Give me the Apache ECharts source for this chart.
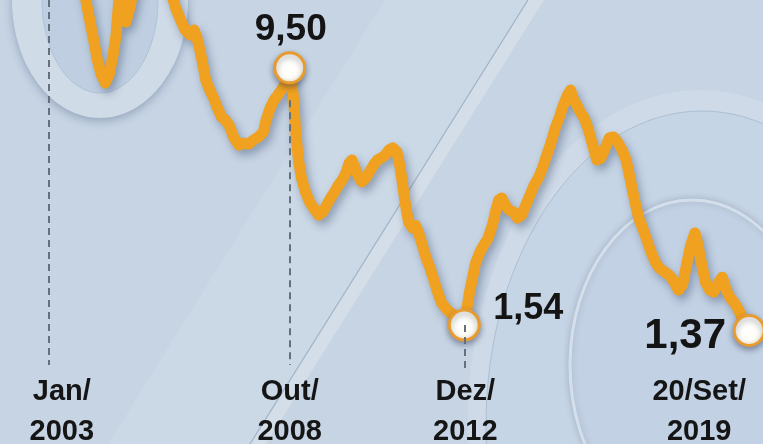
<!DOCTYPE html>
<html>
<head>
<meta charset="utf-8">
<script src="https://cdn.jsdelivr.net/npm/echarts@6/dist/echarts.min.js"></script>
<style>
  html, body { margin: 0; padding: 0; background: #c6d4e4; }
  #chart { width: 763px; height: 444px; }
</style>
</head>
<body>
<div id="chart"></div>
<script>
// Real interest rate (% a.a.), Jan/2003 to 20/Set/2019
const dates = [
  '2003-01-01','2003-03-01','2003-05-07','2003-07-14','2003-09-12','2003-11-11','2003-12-23',
  '2004-01-27','2004-02-28','2004-04-03','2004-05-07','2004-06-11','2004-07-14','2004-08-09',
  '2004-08-26','2004-09-13','2004-10-08','2004-11-03','2004-12-07','2005-01-10','2005-02-14',
  '2005-04-29','2005-07-23','2005-09-30','2005-11-29','2006-01-11','2006-02-22','2006-04-04',
  '2006-05-16','2006-06-20','2006-07-15','2006-08-10','2006-09-05','2006-09-30','2006-11-04',
  '2006-12-07','2007-01-11','2007-02-14','2007-03-18','2007-04-21','2007-06-03','2007-07-15',
  '2007-08-27','2007-10-09','2007-11-21','2008-01-03','2008-02-14','2008-03-10','2008-04-13',
  '2008-05-17','2008-06-20','2008-08-02','2008-09-06','2008-10-01','2008-10-18','2008-11-05',
  '2008-11-21','2008-12-16','2009-01-11','2009-02-15','2009-03-27','2009-05-09','2009-06-12',
  '2009-07-16','2009-08-19','2009-09-23','2009-10-27','2009-11-30','2010-01-03','2010-02-07',
  '2010-03-02','2010-03-27','2010-04-23','2010-05-17','2010-06-21','2010-07-25','2010-08-28',
  '2010-10-02','2010-11-05','2010-12-09','2011-01-12','2011-02-15','2011-03-19','2011-04-23',
  '2011-05-18','2011-06-13','2011-07-08','2011-08-03','2011-09-07','2011-10-02','2011-10-27',
  '2011-11-30','2012-01-04','2012-02-07','2012-03-11','2012-04-15','2012-05-18','2012-06-22',
  '2012-07-25','2012-08-29','2012-10-11','2012-12-01','2013-01-16','2013-02-12','2013-03-10',
  '2013-04-16','2013-05-21','2013-06-27','2013-08-03','2013-08-30','2013-09-27','2013-10-24',
  '2013-11-21','2013-12-27','2014-02-03','2014-03-09','2014-04-15','2014-05-21','2014-06-27',
  '2014-08-02','2014-09-08','2014-10-14','2014-11-20','2014-12-26','2015-02-02','2015-03-08',
  '2015-04-14','2015-05-20','2015-06-16','2015-07-13','2015-08-10','2015-09-07','2015-10-13',
  '2015-11-19','2015-12-25','2016-01-31','2016-03-07','2016-04-13','2016-05-18','2016-06-24',
  '2016-07-30','2016-09-06','2016-10-12','2016-11-18','2016-12-24','2017-01-30','2017-03-05',
  '2017-04-11','2017-05-17','2017-06-23','2017-07-29','2017-09-14','2017-10-29','2017-12-05',
  '2018-01-11','2018-02-16','2018-03-23','2018-04-29','2018-06-04','2018-07-01','2018-07-28',
  '2018-09-04','2018-10-10','2018-11-16','2018-12-22','2019-01-28','2019-03-04','2019-04-09',
  '2019-05-15','2019-06-21','2019-07-27','2019-09-20'
];
const realRate = [
  12.84, 13.30, 12.99, 13.46, 12.53, 11.75, 10.98,
  10.36, 9.74, 9.28, 9.03, 9.31, 9.90, 10.52,
  11.29, 11.91, 11.45, 10.92, 11.35, 11.97, 12.84,
  13.46, 12.99, 12.37, 11.85, 11.35, 10.98, 10.67,
  10.52, 10.67, 10.42, 10.05, 9.59, 9.12, 8.81,
  8.57, 8.25, 7.98, 7.89, 7.73, 7.33, 7.11,
  7.17, 7.14, 7.27, 7.36, 7.51, 7.89, 8.25,
  8.50, 8.66, 8.88, 9.12, 9.50, 9.06, 8.50,
  7.57, 6.65, 6.09, 5.66, 5.32, 5.10, 4.94,
  5.04, 5.25, 5.47, 5.66, 5.87, 6.03, 6.28,
  6.55, 6.65, 6.40, 6.18, 5.97, 6.09, 6.28,
  6.49, 6.65, 6.71, 6.80, 6.96, 7.02, 6.90,
  6.49, 5.87, 5.25, 4.73, 4.54, 4.63, 4.42,
  4.02, 3.61, 3.30, 2.93, 2.53, 2.22, 2.06,
  1.94, 1.85, 1.76, 1.54, 2.56, 3.02, 3.46,
  3.80, 4.02, 4.23, 4.63, 5.04, 5.41, 5.47,
  5.25, 5.10, 5.04, 4.85, 4.94, 5.25, 5.56,
  5.87, 6.09, 6.40, 6.80, 7.17, 7.64, 7.95,
  8.35, 8.66, 8.81, 8.50, 8.35, 8.13, 7.95,
  7.58, 7.11, 6.65, 6.71, 7.02, 7.33, 7.36,
  7.20, 6.96, 6.65, 6.03, 5.41, 4.85, 4.54,
  4.17, 3.80, 3.49, 3.30, 3.18, 3.06, 2.87,
  2.62, 2.78, 3.40, 4.02, 4.39, 4.02, 3.49,
  2.87, 2.62, 2.56, 2.84, 3.02, 2.62, 2.37,
  2.22, 2.00, 1.69, 1.37
];
// Highlighted observations (value read from the series itself)
const keyDates = ['2008-10-01', '2012-12-01', '2019-09-20'];
// Reference dates along the time line and their captions
const refDates = ['2003-01-01', '2008-10-01', '2012-12-01', '2019-09-20'];
const refLabels = ['Jan/\n2003', 'Out/\n2008', 'Dez/\n2012', '20/Set/\n2019'];

const rateAt = d => realRate[dates.indexOf(d)];
const fmt = v => v.toFixed(2).replace('.', ',');

const FONT = '"Liberation Sans", Arial, sans-serif';
const ORANGE = '#efa11f';

// label placement for the highlighted points and date captions
const keyLabelStyle = [
  { offset: [1, -38], fontSize: 37 },
  { offset: [64, -16], fontSize: 36 },
  { offset: [-64, 6], fontSize: 42 }
];
const refLabelOffset = [[13, 0], [0, 0], [1, 0], [-50, 0]];
const CAPTION_Y = -1.15;

const chart = echarts.init(document.getElementById('chart'), null, { renderer: 'canvas' });

// stylised "%" drawn behind the plot
const bg = [
  { type: 'rect', shape: { x: 0, y: 0, width: 763, height: 444 }, style: { fill: '#c6d4e4' } },
  // upper ring of the percent sign
  { type: 'ellipse', shape: { cx: 100, cy: 0, rx: 88, ry: 118 },
    style: { fill: '#d0dbe8', shadowBlur: 8, shadowOffsetY: 3, shadowColor: 'rgba(60,80,115,0.35)' } },
  { type: 'ellipse', shape: { cx: 100, cy: 0, rx: 58, ry: 93 },
    style: { fill: '#bfcfe1', stroke: '#b0c2d6', lineWidth: 1 } },
  // slash
  { type: 'polygon', shape: { points: [[108, 444], [250, 444], [528, 0], [385, 0]] },
    style: { fill: '#cbd8e6' } },
  { type: 'polygon', shape: { points: [[250, 444], [266, 444], [544, 0], [528, 0]] },
    style: { fill: '#d3dee9' } },
  { type: 'line', shape: { x1: 250, y1: 444, x2: 528, y2: 0 },
    style: { stroke: '#9fb3c8', lineWidth: 1.2 } },
  // lower ring of the percent sign
  { type: 'ellipse', shape: { cx: 700, cy: 420, rx: 232, ry: 330 },
    style: { fill: '#cedae7' } },
  { type: 'ellipse', shape: { cx: 702, cy: 425, rx: 216, ry: 314 },
    style: { fill: '#c6d5e5', stroke: '#adbfd3', lineWidth: 1 } },
  { type: 'ellipse', shape: { cx: 692, cy: 365, rx: 122, ry: 165 },
    style: { fill: '#c2d1e3', stroke: '#d4dfeb', lineWidth: 3,
      shadowBlur: 6, shadowColor: 'rgba(70,90,120,0.25)' } }
].map(e => Object.assign({ silent: true, z: -10 }, e));

const option = {
  animation: false,
  backgroundColor: '#c6d4e4',
  graphic: { elements: bg },
  grid: { left: 7, right: 2, top: 0, bottom: 0, outerBoundsMode: 'none' },
  xAxis: {
    type: 'time', min: '2002-01-01', max: '2020-01-01',
    axisLine: { show: false }, axisTick: { show: false },
    axisLabel: { show: false }, splitLine: { show: false }
  },
  yAxis: {
    type: 'value', min: -2.145, max: 11.6,
    axisLine: { show: false }, axisTick: { show: false },
    axisLabel: { show: false }, splitLine: { show: false }
  },
  series: [
    {
      // date captions and dashed guides
      type: 'scatter', z: 1, silent: true,
      symbolSize: 1, itemStyle: { color: 'rgba(0,0,0,0)', opacity: 1 },
      data: refDates.map((d, i) => ({
        value: [d, CAPTION_Y],
        label: { offset: refLabelOffset[i] }
      })),
      label: {
        show: true, position: 'inside',
        formatter: p => refLabels[p.dataIndex],
        color: '#151515', fontFamily: FONT, fontWeight: 'bold',
        fontSize: 29, lineHeight: 40, align: 'center', verticalAlign: 'middle'
      },
      markLine: {
        silent: true, symbol: ['none', 'none'], label: { show: false },
        lineStyle: { color: '#66707c', width: 2, type: [7, 5], opacity: 1 },
        data: [
          [{ coord: [refDates[0], 11.6] }, { coord: [refDates[0], 0.3] }],
          [{ coord: [refDates[1], 8.5] }, { coord: [refDates[1], 0.3] }],
          [{ coord: [refDates[2], rateAt(refDates[2])] }, { coord: [refDates[2], 0.2] }]
        ]
      }
    },
    {
      type: 'line', z: 3, silent: true,
      showSymbol: false, symbol: 'none',
      data: dates.map((d, i) => [d, realRate[i]]),
      lineStyle: {
        color: ORANGE, width: 11, join: 'round', cap: 'round',
        shadowColor: 'rgba(30,45,80,0.35)', shadowBlur: 8, shadowOffsetX: 3, shadowOffsetY: 5
      }
    },
    {
      type: 'scatter', z: 4, silent: true,
      symbol: 'circle', symbolSize: 30,
      data: keyDates.map((d, i) => ({
        value: [d, rateAt(d)],
        label: keyLabelStyle[i]
      })),
      itemStyle: {
        opacity: 1,
        color: {
          type: 'radial', x: 0.45, y: 0.4, r: 0.6,
          colorStops: [{ offset: 0, color: '#ffffff' }, { offset: 0.7, color: '#fffdf6' }, { offset: 1, color: '#fbe9c6' }]
        },
        borderColor: '#e89b2e', borderWidth: 3,
        shadowBlur: 6, shadowOffsetY: 3, shadowColor: 'rgba(30,40,70,0.4)'
      },
      label: {
        show: true, position: 'inside',
        formatter: p => fmt(p.value[1]),
        color: '#141414', fontFamily: FONT, fontWeight: 'bold',
        align: 'center', verticalAlign: 'middle'
      }
    }
  ]
};

chart.setOption(option);
</script>
</body>
</html>
